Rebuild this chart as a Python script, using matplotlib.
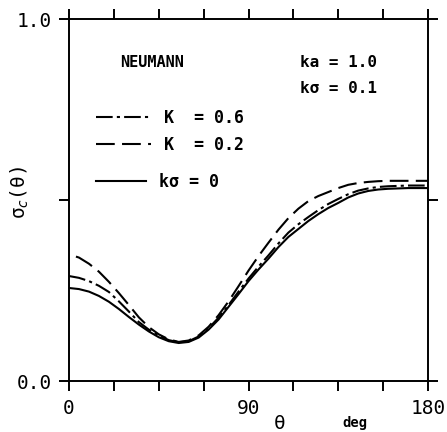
import numpy as np
import matplotlib.pyplot as plt
from matplotlib.lines import Line2D

# scattering angle (deg) and normalized cross sections
theta = [0, 5, 10, 15, 20, 25, 30, 35, 40, 45, 50, 55, 60, 65, 70, 75, 80, 85, 90,
         95, 100, 105, 110, 115, 120, 125, 130, 135, 140, 145, 150, 155, 160, 165, 170, 175, 180]
sigma_smooth = [0.257, 0.254, 0.247, 0.235, 0.219, 0.199, 0.177, 0.156, 0.137, 0.121, 0.110,
                0.105, 0.108, 0.120, 0.142, 0.170, 0.205, 0.240, 0.276, 0.308, 0.338, 0.370,
                0.398, 0.420, 0.442, 0.461, 0.478, 0.492, 0.507, 0.518, 0.525, 0.529, 0.531,
                0.532, 0.533, 0.533, 0.533]
sigma_K06 = [0.290, 0.285, 0.276, 0.263, 0.246, 0.220, 0.192, 0.163, 0.142, 0.126, 0.113,
             0.107, 0.110, 0.123, 0.146, 0.175, 0.210, 0.247, 0.283, 0.316, 0.347, 0.380,
             0.410, 0.433, 0.453, 0.472, 0.489, 0.503, 0.516, 0.526, 0.532, 0.536, 0.538,
             0.539, 0.540, 0.540, 0.540]
sigma_K02 = [0.350, 0.341, 0.324, 0.302, 0.274, 0.243, 0.210, 0.176, 0.149, 0.129, 0.115,
             0.108, 0.112, 0.126, 0.150, 0.182, 0.220, 0.262, 0.305, 0.345, 0.382, 0.418,
             0.450, 0.476, 0.497, 0.511, 0.522, 0.533, 0.542, 0.547, 0.550, 0.552, 0.553,
             0.553, 0.553, 0.553, 0.553]

xticks = np.arange(0, 181, 22.5)
xlabels = ['0', '', '', '', '90', '', '', '', '180']
yticks = [0.0, 0.5, 1.0]
ylabels = ['0.0', '', '1.0']

mono = 'DejaVu Sans Mono'
dashdot = (0, (8, 2, 1.5, 2))
dashed = (0, (9, 3.5))

fig = plt.figure(figsize=(4.47, 4.32), dpi=100)
ax = fig.add_axes([0.1544, 0.118, 0.8031, 0.838])

ax.plot(theta, sigma_K06, color='black', lw=1.5, ls=dashdot)
# curve starts with a gap, like the original
ax.plot(theta, sigma_K02, color='black', lw=1.5, ls=(9, dashed[1]))
ax.plot(theta, sigma_smooth, color='black', lw=1.5, ls='-')

ax.set_xlim(0, 180)
ax.set_ylim(0, 1)
ax.set_xticks(xticks)
ax.set_xticklabels(xlabels, fontfamily=mono, fontsize=14)
ax.set_yticks(yticks)
ax.set_yticklabels(ylabels, fontfamily=mono, fontsize=14)
ax.tick_params(direction='out', top=True, right=True, length=7, width=1.4)
ax.tick_params(axis='x', pad=6)
ax.tick_params(axis='y', pad=5)
for s in ax.spines.values():
    s.set_linewidth(1.4)

ax.set_ylabel('\u03c3$_c$(\u03b8)', fontfamily=mono, fontsize=14)
ax.yaxis.set_label_coords(-0.105, 0.52)
ax.text(0.588, -0.116, '\u03b8', transform=ax.transAxes, fontfamily=mono, fontsize=14,
        ha='center', va='center')
ax.text(0.797, -0.116, 'deg', transform=ax.transAxes, fontfamily=mono, fontsize=10,
        fontweight='bold', ha='center', va='center')

ax.text(0.142, 0.881, 'NEUMANN', transform=ax.transAxes, fontfamily=mono, fontsize=11,
        fontweight='bold', va='center')
ax.text(0.643, 0.881, 'ka = 1.0', transform=ax.transAxes, fontfamily=mono, fontsize=11.5,
        fontweight='bold', va='center')
ax.text(0.643, 0.809, 'k\u03c3 = 0.1', transform=ax.transAxes, fontfamily=mono, fontsize=11.5,
        fontweight='bold', va='center')

# legend keys
h1 = Line2D([], [], color='black', lw=1.5, ls=dashdot)
h2 = Line2D([], [], color='black', lw=1.5, ls=dashed)
h3 = Line2D([], [], color='black', lw=1.5, ls='-')

leg_font = {'family': mono, 'size': 12, 'weight': 'bold'}
leg1 = ax.legend([h1, h2], ['K  = 0.6', 'K  = 0.2'], loc='upper left',
                 bbox_to_anchor=(0.075, 0.752), frameon=False, prop=leg_font,
                 handlelength=3.3, handletextpad=0.8, borderpad=0, borderaxespad=0,
                 labelspacing=0.55)
ax.add_artist(leg1)
ax.legend([h3], ['k\u03c3 = 0'], loc='upper left', bbox_to_anchor=(0.075, 0.575),
          frameon=False, prop=leg_font, handlelength=3.0, handletextpad=0.8,
          borderpad=0, borderaxespad=0)

fig.savefig('out.png', dpi=100)
